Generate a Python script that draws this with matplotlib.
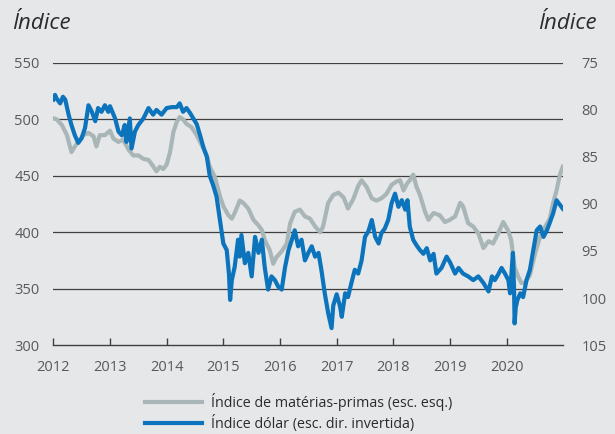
import matplotlib
matplotlib.use('Agg')
import matplotlib.pyplot as plt

plt.rcParams['font.family'] = ['Open Sans', 'DejaVu Sans']

# commodity index (left axis), decimal years
commod_t = [2012.0, 2012.06, 2012.15, 2012.24, 2012.32, 2012.38, 2012.47, 2012.53, 2012.62,
            2012.71, 2012.76, 2012.82, 2012.91, 2013.0, 2013.06, 2013.15, 2013.23, 2013.33,
            2013.41, 2013.5, 2013.59, 2013.68, 2013.74, 2013.82, 2013.88, 2013.94, 2014.0,
            2014.06, 2014.12, 2014.18, 2014.23, 2014.29, 2014.35, 2014.44, 2014.53, 2014.62,
            2014.71, 2014.76, 2014.85, 2014.94, 2015.0, 2015.09, 2015.15, 2015.2, 2015.29,
            2015.35, 2015.44, 2015.53, 2015.62, 2015.68, 2015.73, 2015.82, 2015.88, 2015.94,
            2016.03, 2016.12, 2016.18, 2016.26, 2016.35, 2016.44, 2016.53, 2016.62, 2016.71,
            2016.76, 2016.85, 2016.94, 2017.03, 2017.12, 2017.2, 2017.29, 2017.38, 2017.44,
            2017.53, 2017.62, 2017.7, 2017.79, 2017.88, 2017.97, 2018.06, 2018.12, 2018.18,
            2018.24, 2018.29, 2018.35, 2018.41, 2018.47, 2018.56, 2018.62, 2018.71, 2018.82,
            2018.91, 2019.0, 2019.09, 2019.18, 2019.23, 2019.32, 2019.41, 2019.5, 2019.59,
            2019.68, 2019.76, 2019.85, 2019.94, 2020.03, 2020.08, 2020.14, 2020.2, 2020.26,
            2020.32, 2020.41, 2020.5, 2020.59, 2020.68, 2020.76, 2020.82, 2020.88, 2020.94,
            2020.99]
commod_v = [501, 500, 495, 486, 471, 476, 482, 486, 488,
            485, 476, 486, 486, 490, 483, 480, 482, 473,
            468, 468, 465, 464, 460, 454, 458, 456, 460,
            471, 489, 498, 502, 500, 496, 493, 486, 477,
            468, 458, 449, 432, 423, 415, 412, 417, 428,
            426, 421, 411, 406, 402, 393, 384, 372, 378,
            383, 390, 408, 418, 420, 414, 412, 405, 400,
            405, 426, 433, 435, 431, 421, 429, 441, 446,
            440, 430, 428, 430, 434, 442, 445, 446, 437,
            443, 446, 451, 440, 433, 418, 411, 417, 415,
            409, 411, 414, 426, 423, 408, 405, 399, 386,
            392, 390, 399, 409, 401, 393, 369, 361, 355,
            355, 362, 381, 396, 405, 412, 426, 437, 451,
            458]

# dollar index (right axis, inverted)
dollar_t = [2012.0, 2012.03, 2012.06, 2012.12, 2012.17, 2012.21, 2012.27, 2012.32, 2012.38,
            2012.44, 2012.5, 2012.56, 2012.62, 2012.68, 2012.74, 2012.79, 2012.85, 2012.91,
            2012.97, 2013.0, 2013.09, 2013.15, 2013.21, 2013.26, 2013.29, 2013.35, 2013.38,
            2013.44, 2013.5, 2013.59, 2013.68, 2013.76, 2013.82, 2013.91, 2014.0, 2014.09,
            2014.18, 2014.23, 2014.29, 2014.35, 2014.41, 2014.47, 2014.53, 2014.59, 2014.65,
            2014.71, 2014.76, 2014.82, 2014.88, 2014.94, 2015.0, 2015.06, 2015.1, 2015.12,
            2015.15, 2015.2, 2015.26, 2015.29, 2015.32, 2015.38, 2015.44, 2015.5, 2015.56,
            2015.62, 2015.68, 2015.73, 2015.79, 2015.85, 2015.91, 2015.97, 2016.03, 2016.09,
            2016.15, 2016.21, 2016.26, 2016.32, 2016.38, 2016.44, 2016.5, 2016.56, 2016.62,
            2016.68, 2016.73, 2016.79, 2016.85, 2016.91, 2016.94, 2017.0, 2017.06, 2017.09,
            2017.15, 2017.2, 2017.26, 2017.32, 2017.38, 2017.44, 2017.5, 2017.56, 2017.62,
            2017.68, 2017.74, 2017.79, 2017.85, 2017.91, 2017.97, 2018.03, 2018.09, 2018.15,
            2018.21, 2018.25, 2018.29, 2018.35, 2018.41, 2018.47, 2018.53, 2018.59, 2018.65,
            2018.71, 2018.76, 2018.85, 2018.94, 2019.0, 2019.09, 2019.15, 2019.23, 2019.32,
            2019.41, 2019.5, 2019.59, 2019.68, 2019.74, 2019.79, 2019.85, 2019.91, 2019.97,
            2020.03, 2020.06, 2020.09, 2020.11, 2020.13, 2020.14, 2020.16, 2020.19, 2020.24,
            2020.29, 2020.35, 2020.41, 2020.47, 2020.53, 2020.59, 2020.65, 2020.71, 2020.76,
            2020.82, 2020.88, 2020.94, 2020.99]
dollar_v = [78.9, 78.4, 78.8, 79.3, 78.6, 78.9, 80.5, 81.6, 82.7,
            83.5, 83.0, 81.9, 79.5, 80.2, 81.2, 79.8, 80.2, 79.5,
            80.2, 79.6, 80.9, 82.3, 82.7, 81.6, 83.4, 80.9, 84.1,
            82.3, 81.6, 80.9, 79.8, 80.5, 80.0, 80.5, 79.8, 79.7,
            79.7, 79.3, 80.2, 79.8, 80.3, 80.9, 81.5, 82.7, 84.0,
            85.0, 87.0, 88.0, 89.2, 91.7, 94.2, 94.9, 97.5, 100.2,
            98.1, 96.7, 93.8, 95.6, 93.3, 96.3, 95.2, 97.7, 93.5,
            95.2, 93.8, 96.7, 99.1, 97.7, 98.1, 98.8, 99.1, 96.7,
            94.9, 93.8, 92.8, 94.5, 93.8, 96.0, 95.2, 94.5, 95.6,
            95.2, 97.0, 99.5, 101.6, 103.2, 100.8, 99.6, 100.9, 102.0,
            99.5, 99.9, 98.4, 97.0, 97.4, 96.0, 93.5, 92.9, 91.7,
            93.5, 94.2, 93.1, 92.6, 91.7, 89.9, 88.9, 90.3, 89.6,
            90.6, 89.6, 92.4, 93.8, 94.4, 94.9, 95.3, 94.7, 96.0,
            95.3, 97.4, 96.8, 95.6, 96.2, 97.4, 96.8, 97.4, 97.7,
            98.1, 97.7, 98.4, 99.3, 97.7, 98.1, 97.5, 96.8, 97.4,
            98.1, 99.5, 97.0, 95.2, 99.0, 102.7, 101.0, 100.2, 99.5,
            99.9, 98.1, 97.0, 94.9, 92.8, 92.4, 93.5, 92.8, 92.0,
            91.0, 89.6, 90.1, 90.5]

years = list(range(2012, 2021))
left_ticks = [300, 350, 400, 450, 500, 550]
right_ticks = [75, 80, 85, 90, 95, 100, 105]

BG = '#e6e7e9'
GREY = '#a9b6b8'
BLUE = '#0b74bc'
TXT = '#58595b'


def main():
    fig = plt.figure(figsize=(6.15, 4.34), dpi=100, facecolor=BG)
    ax = fig.add_axes([0.0867, 0.205, 0.8293, 0.65])
    ax.set_facecolor(BG)

    for v in left_ticks[1:]:
        ax.axhline(v, color='#3f3f3f', lw=0.9, zorder=1)

    g, = ax.plot(commod_t, commod_v, color=GREY, lw=3.0, zorder=2,
                 label='Índice de matérias-primas (esc. esq.)')
    ax.set_xlim(2012, 2021)
    ax.set_ylim(300, 550)
    ax.set_yticks(left_ticks)
    ax.set_xticks(years)
    ax.tick_params(axis='y', length=0, pad=10, labelsize=10.5, labelcolor=TXT)
    ax.tick_params(axis='x', direction='in', length=5, width=1, color='#3f3f3f',
                   pad=11, labelsize=10.5, labelcolor=TXT)
    for s in ['top', 'left', 'right']:
        ax.spines[s].set_visible(False)
    ax.spines['bottom'].set_color('#3f3f3f')
    ax.spines['bottom'].set_linewidth(1.0)

    ax2 = ax.twinx()
    b, = ax2.plot(dollar_t, dollar_v, color=BLUE, lw=3.0, zorder=3,
                  label='Índice dólar (esc. dir. invertida)')
    ax2.set_ylim(105, 75)
    ax2.set_yticks(right_ticks)
    ax2.tick_params(axis='y', length=0, pad=13, labelsize=10.5, labelcolor=TXT)
    for s in ax2.spines.values():
        s.set_visible(False)

    fig.text(0.02, 0.947, 'Índice', style='italic', fontsize=16, color='#2b2b2b',
             ha='left', va='center')
    fig.text(0.971, 0.947, 'Índice', style='italic', fontsize=16, color='#2b2b2b',
             ha='right', va='center')

    fig.legend(handles=[g, b], loc='upper left', bbox_to_anchor=(0.236, 0.094),
               frameon=False, fontsize=10.3, handlelength=4.0, handletextpad=0.6,
               labelspacing=0.3, borderaxespad=0, borderpad=0, labelcolor='#2b2b2b')

    fig.savefig('out.png', dpi=100, facecolor=BG)


if __name__ == '__main__':
    main()
